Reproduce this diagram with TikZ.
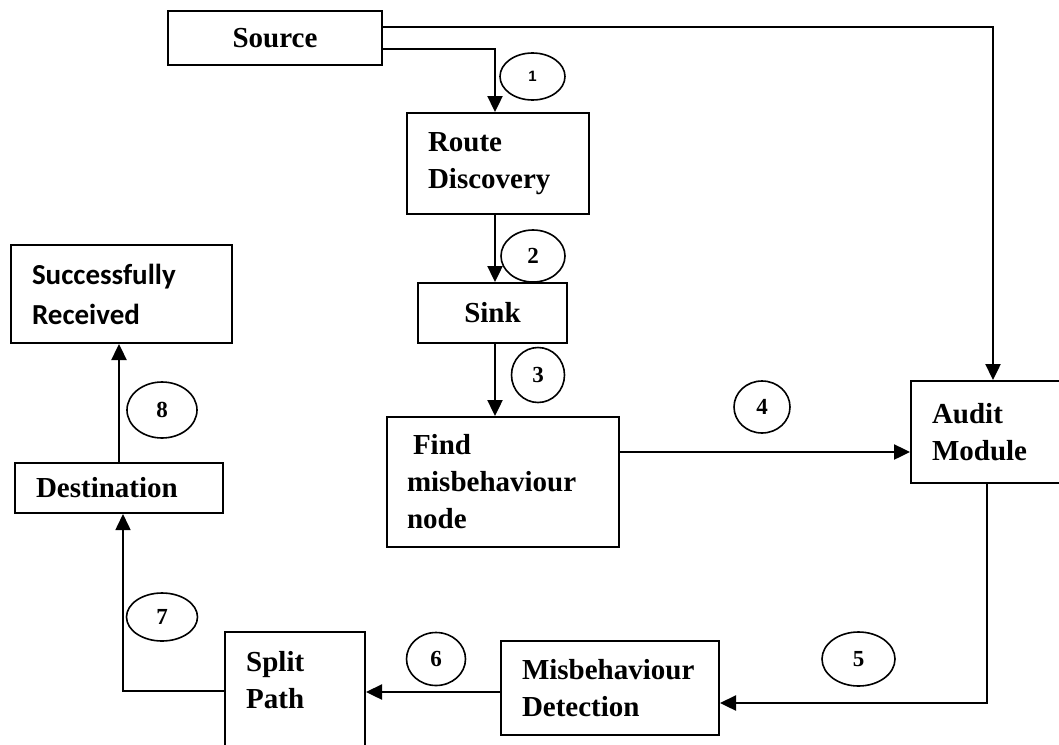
\documentclass[tikz,border=0pt]{standalone}
\usepackage{fontspec}
\setmainfont{Liberation Serif}
\newfontfamily\carl{Carlito}
\newfontfamily\lsans{Liberation Sans}
\usetikzlibrary{arrows.meta,shapes.geometric}
\tikzset{
  boxbase/.style={draw, line width=2pt, rectangle, inner ysep=0pt, font=\bfseries\fontsize{29}{37}\selectfont},
  cbox/.style={boxbase, inner xsep=0pt, align=center, minimum width=#1},
  lbox/.style={boxbase, inner xsep=21pt, align=left, text width=#1-42pt, minimum width=#1},
  num/.style={draw, ellipse, line width=1.6pt, inner sep=0pt, font=\bfseries\fontsize{23}{24}\selectfont},
  arr/.style={line width=2.4pt, -{Triangle[length=16pt,width=15pt]}},
  thinline/.style={line width=1.6pt}
}
\begin{document}
\begin{tikzpicture}[x=1pt,y=-1pt]
\useasboundingbox (0,0) rectangle (1059,744);
\clip (0,0) rectangle (1059,744);
% boxes
\node[cbox=214pt, minimum height=54pt] (source) at (275,38) {Source};
\node[lbox=182pt, minimum height=101pt] (route) at (498,163.5) {Route\\Discovery};
\node[cbox=149pt, minimum height=60pt] (sink) at (492.5,313) {Sink};
\node[boxbase, inner xsep=20pt, align=left, text width=192pt, minimum width=232pt, minimum height=130pt] (find) at (503,482) {\hspace*{6pt}Find\\misbehaviour\\node};
\node[lbox=164pt, minimum height=102pt] (audit) at (993,432) {Audit\\Module};
\node[lbox=218pt, minimum height=94pt] (misdet) at (610,688) {Misbehaviour\\Detection};
\node[boxbase, inner sep=0pt, minimum width=140pt, minimum height=158pt] (split) at (295,711) {};
\node[font=\bfseries\fontsize{29}{37}\selectfont, align=left, inner sep=0pt, anchor=north west] (splittext) at (246,651) {Split\\Path};
\node[lbox=208pt, minimum height=50pt] (dest) at (119,488) {Destination};
\node[boxbase, inner xsep=21pt, align=left, text width=179pt, minimum width=221pt, minimum height=98pt, font=\carl\bfseries\fontsize{29}{40}\selectfont] (sr) at (121.5,294) {Successfully\\Received};
% number ellipses
\node[num, minimum width=65pt, minimum height=47pt, font=\lsans\bfseries\fontsize{15}{16}\selectfont] (e1) at (532.5,76.5) {1};
\node[num, minimum width=64pt, minimum height=52pt] (e2) at (533,256) {2};
\node[num, minimum width=53pt, minimum height=55pt] (e3) at (538,375) {3};
\node[num, minimum width=56pt, minimum height=52pt] (e4) at (762,407) {4};
\node[num, minimum width=73pt, minimum height=54pt] (e5) at (858.5,659) {5};
\node[num, minimum width=59pt, minimum height=53pt] (e6) at (436,659) {6};
\node[num, minimum width=71pt, minimum height=48pt] (e7) at (162,617) {7};
\node[num, minimum width=70pt, minimum height=56pt] (e8) at (162,410) {8};
% helper coordinates
\coordinate (h0) at (0,27);
\coordinate (h1) at (0,49);
\coordinate (vx) at (495,0);
\coordinate (h4) at (0,452);
\coordinate (v5) at (987,0);
\coordinate (h5) at (0,703);
\coordinate (h6) at (0,692);
\coordinate (h7) at (0,691);
\coordinate (v7) at (123,0);
% connectors
\draw[arr] (source.east |- h0) -| (audit.north);
\draw[arr] (source.east |- h1) -| (route.north -| vx);
\draw[arr] (route.south -| vx) -- (sink.north -| vx);
\draw[arr] (sink.south -| vx) -- (find.north -| vx);
\draw[arr] (find.east |- h4) -- (audit.west |- h4);
\draw[arr] (audit.south -| v5) |- (misdet.east |- h5);
\draw[arr] (misdet.west |- h6) -- (split.east |- h6);
\draw[thinline, -{Triangle[length=16pt,width=15pt]}] (split.west |- h7) -| (dest.south -| v7);
\draw[arr] (dest.north) -- (sr.south -| dest.north);
\end{tikzpicture}
\end{document}
